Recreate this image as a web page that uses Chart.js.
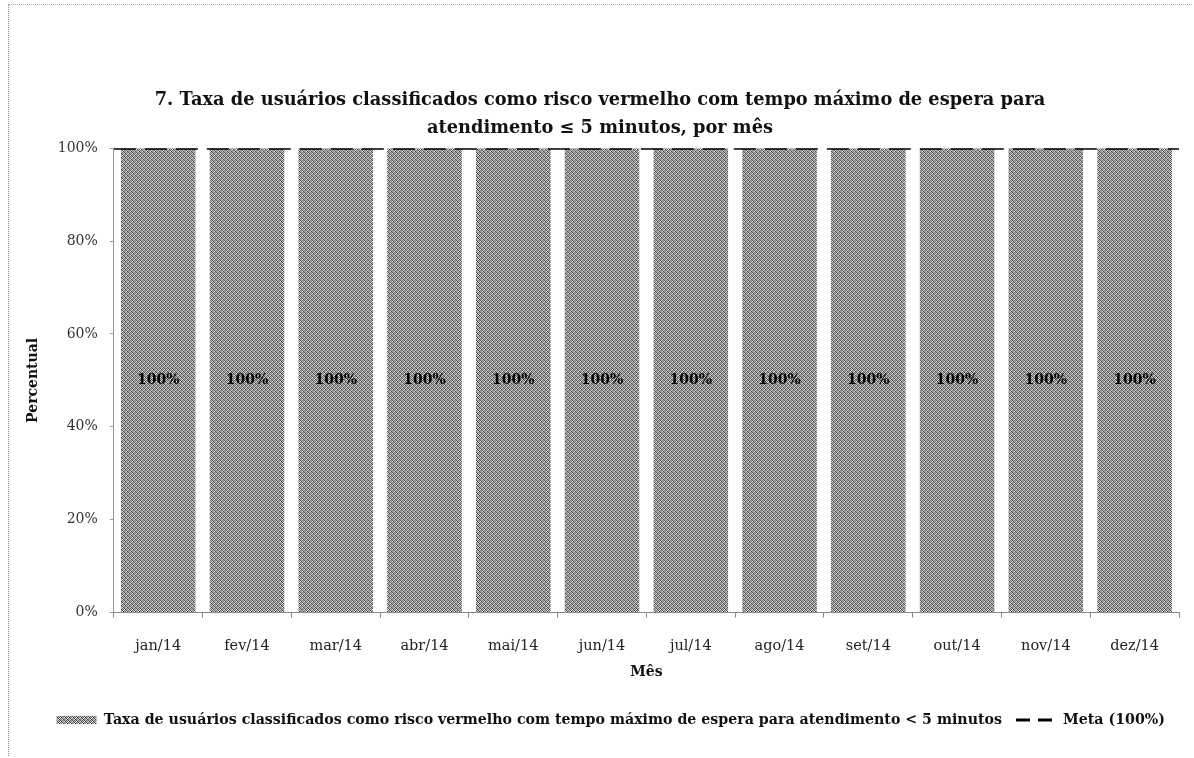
<!DOCTYPE html>
<html>
<head>
<meta charset="utf-8">
<script src="https://cdn.jsdelivr.net/npm/chart.js@4.4.1/dist/chart.umd.min.js"></script>
<style>
  html, body { margin: 0; padding: 0; background: #fff; }
  #wrap { position: absolute; left: 8px; top: 4px; width: 1184px; height: 752px; border-left: 1px dotted #888; border-top: 1px dotted #aaa; box-sizing: border-box; }
  #chart { position: absolute; left: 0; top: 0; }
</style>
</head>
<body>
<div id="wrap"><canvas id="chart" width="1184" height="752"></canvas></div>
<script>
const months = ['jan/14', 'fev/14', 'mar/14', 'abr/14', 'mai/14', 'jun/14', 'jul/14', 'ago/14', 'set/14', 'out/14', 'nov/14', 'dez/14'];
const taxaValues = [100, 100, 100, 100, 100, 100, 100, 100, 100, 100, 100, 100];
const metaValue = 100;
const yTicks = [0, 20, 40, 60, 80, 100];

const SERIF = '"DejaVu Serif", "Liberation Serif", serif';

// fixed dither tile, to look like the scanned grey fill
function greyPattern() {
  const tile = document.createElement('canvas');
  tile.width = 4;
  tile.height = 4;
  const c = tile.getContext('2d');
  const shades = [
    '#3a3a3a', '#bbb', '#707070', '#eee',
    '#a0a0a0', '#5c5c5c', '#d8d8d8', '#808080',
    '#909090', '#e8e8e8', '#3a3a3a', '#a0a0a0',
    '#c4c4c4', '#6c6c6c', '#b4b4b4', '#4c4c4c',
  ];
  shades.forEach((s, i) => { c.fillStyle = s; c.fillRect(i % 4, Math.floor(i / 4), 1, 1); });
  return document.getElementById('chart').getContext('2d').createPattern(tile, 'repeat');
}

// "100%" written in the middle of each bar
const barLabels = {
  id: 'barLabels',
  afterDatasetsDraw(chart) {
    const { ctx } = chart;
    const meta = chart.getDatasetMeta(0);
    const y = chart.scales.y.getPixelForValue(50);
    ctx.save();
    ctx.font = 'bold 14px ' + SERIF;
    ctx.fillStyle = '#000';
    ctx.textAlign = 'center';
    ctx.textBaseline = 'middle';
    meta.data.forEach((bar, i) => ctx.fillText(taxaValues[i] + '%', bar.x, y));
    ctx.restore();
  },
};

new Chart(document.getElementById('chart'), {
  data: {
    labels: months,
    datasets: [
      {
        type: 'bar',
        label: 'Taxa de usuários classificados como risco vermelho com tempo máximo de espera para atendimento < 5 minutos',
        data: taxaValues,
        backgroundColor: greyPattern(),
        borderWidth: 0,
        grouped: false,
        barPercentage: 0.84,
        categoryPercentage: 1,
        order: 2,
      },
      {
        type: 'line',
        label: 'Meta (100%)',
        xAxisID: 'x2',
        data: [{ x: 0, y: metaValue }, { x: months.length, y: metaValue }],
        borderColor: '#000',
        backgroundColor: '#000',
        borderWidth: 3,
        borderDash: [22, 9],
        pointRadius: 0,
        order: 1,
      },
    ],
  },
  plugins: [barLabels],
  options: {
    responsive: false,
    animation: false,
    layout: { padding: { left: 12, right: 14, top: 82, bottom: 20 } },
    plugins: {
      title: {
        display: true,
        text: ['7. Taxa de usuários classificados como risco vermelho com tempo máximo de espera para', 'atendimento ≤ 5 minutos, por mês'],
        font: { family: SERIF, size: 17.8, weight: 'bold', lineHeight: 1.55 },
        color: '#111',
        padding: { top: 0, bottom: 6 },
      },
      legend: {
        position: 'bottom',
        align: 'end',
        labels: {
          usePointStyle: true,
          pointStyleWidth: 40,
          boxHeight: 8,
          font: { family: SERIF, size: 14.2, weight: 'bold' },
          color: '#111',
          padding: 14,
          generateLabels(chart) {
            const items = Chart.defaults.plugins.legend.labels.generateLabels(chart);
            items.sort((a, b) => a.datasetIndex - b.datasetIndex);
            items[0].pointStyle = 'rect';
            items[0].lineWidth = 0;
            items[1].pointStyle = 'line';
            items[1].lineWidth = 3;
            items[1].lineDash = [14, 8];
            return items;
          },
        },
      },
      tooltip: { enabled: false },
    },
    scales: {
      x: {
        grid: { drawOnChartArea: false, drawTicks: true, tickLength: 5, color: '#888' },
        border: { color: '#888', dash: [2, 2] },
        ticks: { font: { family: SERIF, size: 14.5 }, color: '#222', padding: 20 },
        title: { display: true, text: 'Mês', font: { family: SERIF, size: 14, weight: 'bold' }, color: '#111', padding: { top: -11, bottom: 18 } },
      },
      x2: { type: 'linear', display: false, min: 0, max: months.length },
      y: {
        min: 0,
        max: 100,
        afterBuildTicks(axis) { axis.ticks = yTicks.map((v) => ({ value: v })); },
        grid: { drawOnChartArea: false, drawTicks: true, tickLength: 4, color: '#999' },
        border: { color: '#999', dash: [2, 3] },
        ticks: { font: { family: SERIF, size: 14 }, color: '#333', padding: 12, callback: (v) => v + '%' },
        title: { display: true, text: 'Percentual', font: { family: SERIF, size: 14, weight: 'bold' }, color: '#111', padding: { bottom: 4 } },
      },
    },
  },
});
</script>
</body>
</html>
